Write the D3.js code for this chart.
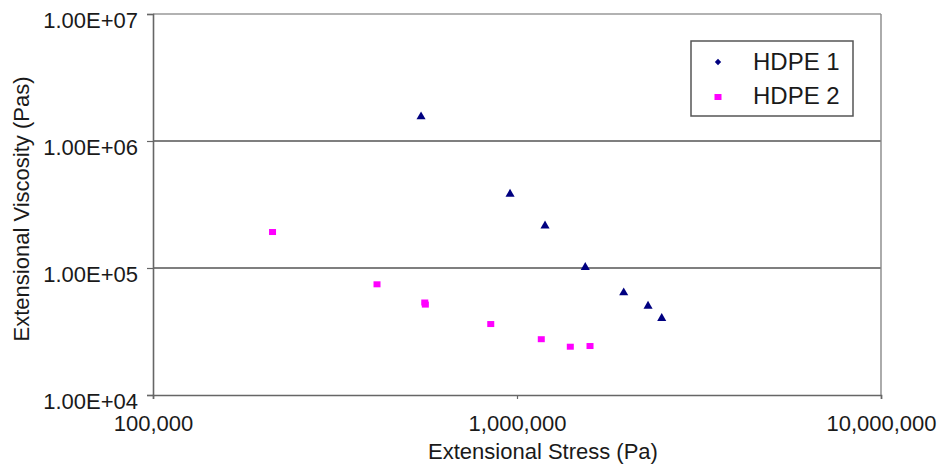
<!DOCTYPE html>
<html>
<head>
<meta charset="utf-8">
<script src="https://cdn.jsdelivr.net/npm/d3@7"></script>
<style>
  html, body { margin: 0; padding: 0; background: #fff; }
  svg { display: block; font-family: "Liberation Sans", Arial, sans-serif; }
</style>
</head>
<body>
<svg id="chart" width="941" height="465"></svg>
<script>
// ---- data ----
const seriesNames = ["HDPE 1", "HDPE 2"];
const hdpe1Stress = [545000, 957000, 1194000, 1540000, 1964000, 2291000, 2498000];
const hdpe1Visc   = [1553000, 382000, 215000, 101300, 63900, 50200, 40200];
const hdpe2Stress = [213000, 412500, 558000, 560000, 847000, 1166000, 1401000, 1587000];
const hdpe2Visc   = [192000, 74400, 53500, 51500, 36200, 27500, 24000, 24300];
const xTickValues = [1e5, 1e6, 1e7];
const xTickLabels = ["100,000", "1,000,000", "10,000,000"];
const yTickValues = [1e4, 1e5, 1e6, 1e7];
const yTickLabels = ["1.00E+04", "1.00E+05", "1.00E+06", "1.00E+07"];
const xTitle = "Extensional Stress (Pa)";
const yTitle = "Extensional Viscosity (Pas)";

(function () {
// ---- layout ----
const pL = 153, pR = 881, pT = 14, pB = 395;
const svg = d3.select("#chart");
const x = d3.scaleLog().domain([1e5, 1e7]).range([pL, pR]);
const y = d3.scaleLog().domain([1e4, 1e7]).range([pB, pT]);

// gridlines (1e5, 1e6)
svg.append("g").selectAll("line")
  .data(yTickValues.filter(v => v > 1e4 && v < 1e7))
  .join("line")
  .attr("x1", pL).attr("x2", pR)
  .attr("y1", d => y(d)).attr("y2", d => y(d))
  .attr("stroke", "#555").attr("stroke-width", 1.6);

// top and right border
svg.append("line").attr("x1", pL).attr("x2", pR).attr("y1", y(1e7)).attr("y2", y(1e7))
  .attr("stroke", "#999").attr("stroke-width", 1.3);
svg.append("line").attr("x1", pR).attr("x2", pR).attr("y1", pT).attr("y2", pB)
  .attr("stroke", "#888").attr("stroke-width", 1.4);

// y axis
const yAxis = d3.axisLeft(y).tickValues(yTickValues)
  .tickFormat((d, i) => yTickLabels[i]).tickSize(6).tickPadding(9);
const gy = svg.append("g").attr("transform", `translate(${pL},0)`).call(yAxis);
gy.select(".domain").attr("stroke", "#666").attr("stroke-width", 1.6);
gy.selectAll(".tick line").attr("stroke", "#666").attr("stroke-width", 1.2);
gy.selectAll(".tick text").attr("font-size", 22).attr("fill", "#1a1a1a")
  .attr("font-family", "'Liberation Sans', Arial, sans-serif").attr("dy", "0.62em");

// x axis
const xAxis = d3.axisBottom(x).tickValues(xTickValues)
  .tickFormat((d, i) => xTickLabels[i]).tickSize(4).tickPadding(16);
const gx = svg.append("g").attr("transform", `translate(0,${pB})`).call(xAxis);
gx.select(".domain").attr("stroke", "#666").attr("stroke-width", 1.6);
gx.selectAll(".tick line").attr("stroke", "#666").attr("stroke-width", 1.2);
gx.selectAll(".tick text").attr("font-size", 22).attr("fill", "#1a1a1a")
  .attr("font-family", "'Liberation Sans', Arial, sans-serif").attr("dy", "0.71em");

// axis titles
svg.append("text").attr("x", (x(1e5) + x(1e7)) / 2 + 26).attr("y", 459)
  .attr("text-anchor", "middle").attr("font-size", 22).attr("fill", "#1a1a1a").text(xTitle);
svg.append("text").attr("transform", "translate(29,209) rotate(-90)")
  .attr("text-anchor", "middle").attr("font-size", 22).attr("fill", "#1a1a1a").text(yTitle);

// series
const s1 = hdpe1Stress.map((v, i) => ({ x: v, y: hdpe1Visc[i] }));
const s2 = hdpe2Stress.map((v, i) => ({ x: v, y: hdpe2Visc[i] }));
const tri = d3.symbol().type(d3.symbolTriangle).size(36);
svg.append("g").selectAll("path").data(s1).join("path")
  .attr("d", tri)
  .attr("transform", d => `translate(${x(d.x)},${y(d.y)})`)
  .attr("fill", "#000080");
svg.append("g").selectAll("rect").data(s2).join("rect")
  .attr("x", d => x(d.x) - 3.5).attr("y", d => y(d.y) - 3)
  .attr("width", 7).attr("height", 6)
  .attr("fill", "#ff00ff");

// legend
const lg = svg.append("g");
lg.append("rect").attr("x", 691).attr("y", 41).attr("width", 162).attr("height", 75)
  .attr("fill", "#fff").attr("stroke", "#555").attr("stroke-width", 1.5);
lg.append("path").attr("d", d3.symbol().type(d3.symbolSquare).size(20))
  .attr("transform", "translate(718,62) rotate(45)").attr("fill", "#000080");
lg.append("rect").attr("x", 714.5).attr("y", 94).attr("width", 7).attr("height", 6).attr("fill", "#ff00ff");
lg.selectAll("text.lbl").data(seriesNames).join("text").attr("class", "lbl")
  .attr("x", 753).attr("y", (d, i) => 70 + i * 34)
  .attr("font-size", 24).attr("fill", "#1a1a1a").text(d => d);
})();
</script>
</body>
</html>
